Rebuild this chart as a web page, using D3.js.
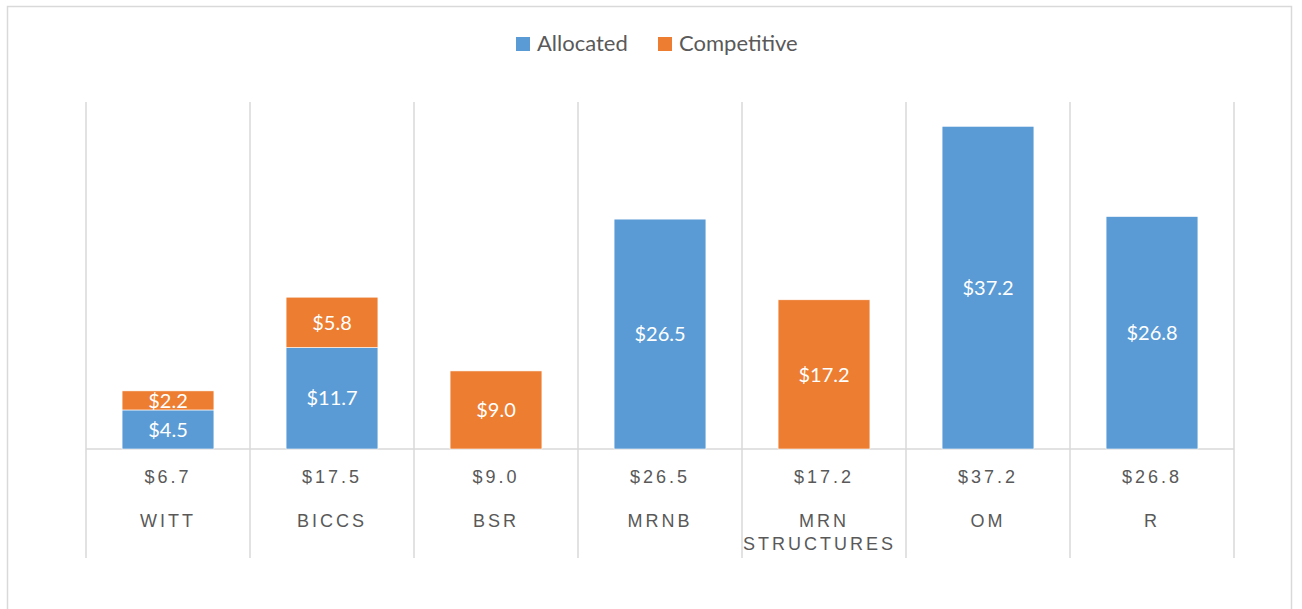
<!DOCTYPE html>
<html lang="en">
<head>
<meta charset="UTF-8">
<title>Allocated vs Competitive</title>
<script src="https://d3js.org/d3.v7.min.js"></script>
<style>
  body { margin: 0; background: #fff; font-family: Lato, "Open Sans", sans-serif; }
  .cat text { fill: #595959; font-size: 18px; letter-spacing: 3px; }
  .lbl { fill: #fff; font-size: 20px; }
  .legend text { fill: #595959; font-size: 22px; }
</style>
</head>
<body>
<div id="chart"></div>
<script>
// data ($M)
const categories = ["WITT", "BICCS", "BSR", "MRNB", "MRN STRUCTURES", "OM", "R"];
const allocated = [4.5, 11.7, 0, 26.5, 0, 37.2, 26.8];
const competitive = [2.2, 5.8, 9.0, 0, 17.2, 0, 0];
const totals = ["$6.7", "$17.5", "$9.0", "$26.5", "$17.2", "$37.2", "$26.8"];
const seriesNames = ["Allocated", "Competitive"];
const colors = ["#5B9BD5", "#ED7D31"];

const W = 1302, H = 609;
const plot = { left: 86, right: 1234, top: 102, base: 449, gridBottom: 558 };

const svg = d3.select("#chart").append("svg")
  .attr("width", W)
  .attr("height", H);

// outer frame
svg.append("rect")
  .attr("x", 7.5).attr("y", 6.5)
  .attr("width", 1284).attr("height", 620)
  .attr("fill", "none")
  .attr("stroke", "#d9d9d9")
  .attr("stroke-width", 1.5);

const x = d3.scaleBand()
  .domain(categories)
  .range([plot.left, plot.right])
  .paddingInner(0.44)
  .paddingOuter(0.22);

const y = d3.scaleLinear()
  .domain([0, 40])
  .range([plot.base, plot.top]);

// vertical separators between categories
const step = x.step();
const edges = d3.range(categories.length + 1).map(i => plot.left + i * step);
svg.append("g").selectAll("line")
  .data(edges)
  .join("line")
  .attr("x1", d => d).attr("x2", d => d)
  .attr("y1", plot.top).attr("y2", plot.gridBottom)
  .attr("stroke", "#d9d9d9")
  .attr("stroke-width", 1.5);

// baseline
svg.append("line")
  .attr("x1", plot.left).attr("x2", plot.right)
  .attr("y1", y(0)).attr("y2", y(0))
  .attr("stroke", "#d9d9d9")
  .attr("stroke-width", 1.5);

// stacked bars
const rows = categories.map((c, i) => ({ cat: c, Allocated: allocated[i], Competitive: competitive[i] }));
const stacked = d3.stack().keys(seriesNames)(rows);

const layer = svg.append("g").selectAll("g")
  .data(stacked)
  .join("g")
  .attr("fill", (d, i) => colors[i]);

layer.selectAll("rect")
  .data(d => d.filter(p => p[1] > p[0]))
  .join("rect")
  .attr("x", d => x(d.data.cat))
  .attr("width", x.bandwidth())
  .attr("y", d => y(d[1]))
  .attr("height", d => y(d[0]) - y(d[1]))
  .attr("stroke", "#fff")
  .attr("stroke-width", 0.6);

layer.selectAll("text")
  .data(d => d.filter(p => p[1] > p[0]))
  .join("text")
  .attr("class", "lbl")
  .attr("x", d => x(d.data.cat) + x.bandwidth() / 2)
  .attr("y", d => (y(d[0]) + y(d[1])) / 2)
  .attr("dy", "0.36em")
  .attr("text-anchor", "middle")
  .text(d => "$" + (d[1] - d[0]).toFixed(1));

// category axis: total on first row, name below (wrapped)
const axis = d3.axisBottom(x).tickSize(0).tickFormat("");
const ax = svg.append("g")
  .attr("class", "cat")
  .attr("transform", `translate(0,${plot.base})`)
  .call(axis);
ax.select(".domain").remove();

ax.selectAll(".tick text").each(function(d, i) {
  const t = d3.select(this)
    .attr("y", 0).attr("dy", null)
    .attr("x", 0)
    .attr("text-anchor", null);
  const lines = [totals[i]].concat(d.split(" "));
  lines.forEach((w, j) => {
    const ts = t.append("tspan")
      .attr("y", j === 0 ? 34 : 78 + (j - 1) * 23)
      .attr("text-anchor", "middle")
      .attr("x", 0)
      .text(w);
    // labels wider than the slot start at its left edge
    const len = ts.node().getComputedTextLength();
    if (len > step - 20) {
      ts.attr("text-anchor", "start").attr("x", -step / 2 + 1);
    }
  });
});

// legend
const legend = svg.append("g").attr("class", "legend");
const legX = [516, 658];
seriesNames.forEach((name, i) => {
  legend.append("rect")
    .attr("x", legX[i]).attr("y", 37)
    .attr("width", 14).attr("height", 14)
    .attr("fill", colors[i]);
  legend.append("text")
    .attr("x", legX[i] + 21).attr("y", 51)
    .text(name);
});
</script>
</body>
</html>
